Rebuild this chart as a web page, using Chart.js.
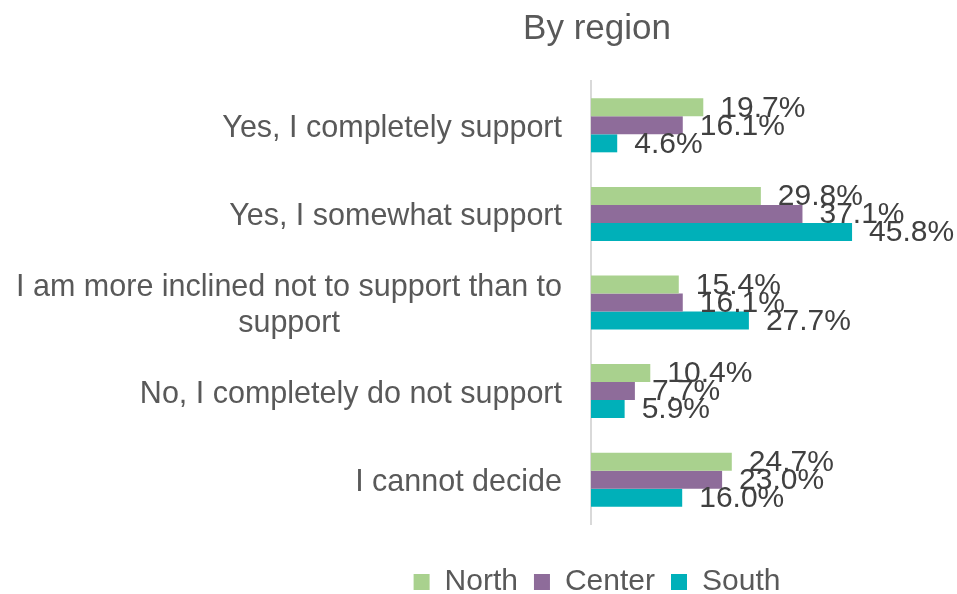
<!DOCTYPE html>
<html>
<head>
<meta charset="utf-8">
<script src="https://cdn.jsdelivr.net/npm/chart.js@4/dist/chart.umd.min.js"></script>
<style>
  html, body { margin: 0; padding: 0; background: #fff; }
  #wrap { width: 957px; height: 594px; position: relative; }
</style>
</head>
<body>
<div id="wrap"><canvas id="regionChart"></canvas></div>
<script>
// Данные графика
const categories = [
    ["Yes, I completely support"],
    ["Yes, I somewhat support"],
    ["I am more inclined not to support than to", "support"],
    ["No, I completely do not support"],
    ["I cannot decide"]
];
const seriesNames = ["North", "Center", "South"];
const northValues = [19.7, 29.8, 15.4, 10.4, 24.7];
const centerValues = [16.1, 37.1, 16.1, 7.7, 23.0];
const southValues = [4.6, 45.8, 27.7, 5.9, 16.0];
const seriesColors = ["#A9D18E", "#8E6C9A", "#00B0B9"];

const FONT = "'Liberation Sans', Arial, sans-serif";

// Подписи категорий слева (многострочные центрируются по первой строке)
const categoryLabels = {
    id: 'categoryLabels',
    afterDraw(chart) {
        const ctx = chart.ctx;
        const yScale = chart.scales.y;
        const right = chart.chartArea.left - 29;
        ctx.save();
        ctx.font = "30.5px " + FONT;
        ctx.fillStyle = "#595959";
        ctx.textBaseline = "middle";
        ctx.textAlign = "center";
        const lineH = 36;
        categories.forEach((lines, i) => {
            const yc = yScale.getPixelForValue(i) + 3;
            const widths = lines.map(l => ctx.measureText(l).width);
            const maxW = Math.max(...widths);
            const cx = right - maxW / 2;
            const y0 = yc - (lines.length - 1) * lineH / 2;
            lines.forEach((l, k) => ctx.fillText(l, cx, y0 + k * lineH));
        });
        ctx.restore();
    }
};

// Подписи значений у концов столбцов
const valueLabels = {
    id: 'valueLabels',
    afterDatasetsDraw(chart) {
        const ctx = chart.ctx;
        ctx.save();
        ctx.font = "30px " + FONT;
        ctx.fillStyle = "#404040";
        ctx.textBaseline = "middle";
        ctx.textAlign = "left";
        chart.data.datasets.forEach((ds, di) => {
            chart.getDatasetMeta(di).data.forEach((bar, i) => {
                ctx.fillText(ds.data[i].toFixed(1) + "%", bar.x + 17, bar.y + 1);
            });
        });
        ctx.restore();
    }
};

const ctx = document.getElementById("regionChart").getContext("2d");
new Chart(ctx, {
    type: "bar",
    data: {
        labels: categories.map(c => c.join(" ")),
        datasets: [
            { label: seriesNames[0], data: northValues, backgroundColor: seriesColors[0] },
            { label: seriesNames[1], data: centerValues, backgroundColor: seriesColors[1] },
            { label: seriesNames[2], data: southValues, backgroundColor: seriesColors[2] }
        ]
    },
    options: {
        indexAxis: "y",
        responsive: true,
        maintainAspectRatio: false,
        animation: false,
        datasets: {
            bar: { categoryPercentage: 0.61, barPercentage: 1.0 }
        },
        layout: { padding: { left: 261, right: 24, top: 0, bottom: -13 } },
        scales: {
            x: {
                display: true, min: 0, max: 60,
                grid: { display: false },
                border: { display: false },
                ticks: { display: false },
                afterFit(scale) { scale.height = 27; }
            },
            y: {
                grid: { display: false },
                border: { display: true, color: "#D9D9D9", width: 2 },
                ticks: { display: false },
                afterFit(scale) { scale.width = 330; }
            }
        },
        plugins: {
            title: {
                display: true,
                text: "By region",
                color: "#595959",
                font: { family: FONT, size: 35, weight: "normal" },
                padding: { top: 8, bottom: 31 }
            },
            legend: {
                display: true,
                position: "bottom",
                labels: {
                    color: "#595959",
                    font: { family: FONT, size: 30 },
                    boxWidth: 16,
                    boxHeight: 16,
                    padding: 16
                }
            },
            tooltip: { enabled: false }
        }
    },
    plugins: [categoryLabels, valueLabels]
});
</script>
</body>
</html>
